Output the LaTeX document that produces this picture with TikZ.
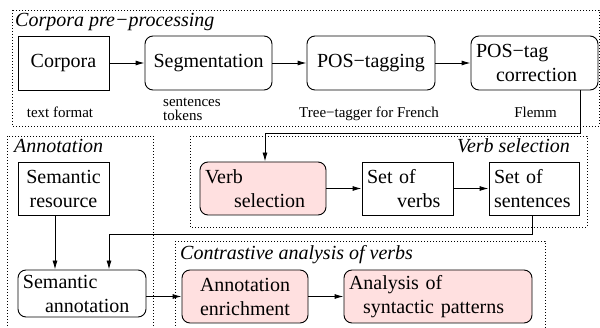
\documentclass[tikz,border=0pt]{standalone}
\usepackage{fontspec}
\setmainfont{Liberation Serif}
\usetikzlibrary{arrows.meta}
\definecolor{pinkfill}{RGB}{255,224,224}
\begin{document}
\begin{tikzpicture}[x=1pt,y=-1pt,
  big/.style={font=\fontsize{20}{24}\selectfont},
  sm/.style={font=\fontsize{15}{14}\selectfont},
  ttl/.style={font=\fontsize{20}{24}\selectfont\itshape, inner sep=0pt},
  sq/.style={draw, line width=0.9pt, fill=white, big, inner xsep=5pt, inner ysep=1pt},
  rd/.style={sq, rounded corners=8pt},
  pk/.style={rd, fill=pinkfill},
  grp/.style={draw, line width=0.9pt, dash pattern=on 1pt off 2pt},
  arr/.style={draw, line width=0.9pt, -{Latex[length=9pt,width=5pt]}},
  lbl/.style={sm, inner sep=0pt, align=left}
]
\useasboundingbox (0,0) rectangle (600,328);
% groups
\draw[grp] (12,10) rectangle (599,126);
\draw[grp] (7,136) rectangle (153,332);
\draw[grp] (190,136) rectangle (587,227);
\draw[grp] (175,241) rectangle (545,332);
\node[ttl, anchor=base west] (t1) at (15,27) {Corpora pre−processing};
\node[ttl, anchor=base west] (t2) at (14,153) {Annotation};
\node[ttl, anchor=base east] (t3) at (570,153) {Verb selection};
\node[ttl, anchor=base west] (t4) at (180,260) {Contrastive analysis of verbs};
% nodes
\node[sq, minimum width=91pt, minimum height=54pt, align=center] (corp) at (63.5,63) {Corpora};
\node[rd, minimum width=127pt, minimum height=54pt, align=center] (seg) at (208.5,63) {Segmentation};
\node[rd, minimum width=128pt, minimum height=54pt, align=center] (pos) at (371,63) {POS−tagging};
\node[rd, text width=117pt, minimum height=54pt, align=left] (posc) at (534.5,63) {POS−tag\\\hspace{20pt}correction};
\node[sq, minimum width=91pt, minimum height=53pt, align=center] (semres) at (63.5,188.5) {Semantic\\resource};
\node[rd, text width=118pt, minimum height=47pt, align=left] (semann) at (82,293.5) {Semantic\\\hspace{22pt}annotation};
\node[pk, text width=116pt, minimum height=53pt, align=left] (vsel) at (263,188.5) {Verb\\\hspace{29pt}selection};
\node[sq, text width=81pt, minimum height=53pt, align=left] (sverbs) at (407.5,188.5) {Set of\\\hspace{30pt}verbs};
\node[sq, text width=80pt, minimum height=53pt, align=left] (ssent) at (534,188.5) {Set of\\sentences};
\node[pk, minimum width=126pt, minimum height=53pt, align=center] (enrich) at (245,296.5) {Annotation\\enrichment};
\node[pk, text width=178pt, minimum height=53pt, align=left] (anal) at (438,296.5) {Analysis of\\\hspace{14pt}syntactic patterns};
% labels
\node[lbl, anchor=base] (l1) at (60,118) {text format};
\node[lbl, anchor=base west] (l2) at (163,121) {sentences\\tokens};
\node[lbl, anchor=base] (l3) at (369,118) {Tree−tagger for French};
\node[lbl, anchor=base] (l4) at (535.5,118) {Flemm};
% connectors
\coordinate (c1) at (580,133);
\coordinate (c2) at (265,133);
\coordinate (c3) at (532,234);
\coordinate (c4) at (109,234);
\draw[arr] (corp) -- (seg);
\draw[arr] (seg) -- (pos);
\draw[arr] (pos) -- (posc);
\draw[arr] (posc.south -| c1) -- (c1) -- (c2) -- (c2 |- vsel.north);
\draw[arr] (vsel) -- (sverbs);
\draw[arr] (sverbs) -- (ssent);
\draw[arr] (ssent.south -| c3) -- (c3) -- (c4) -- (c4 |- semann.north);
\draw[arr] (semres.south -| 55,0) -- (semann.north -| 55,0);
\draw[arr] (semann.east |- enrich.west) -- (enrich.west);
\draw[arr] (enrich) -- (anal);
\end{tikzpicture}
\end{document}
